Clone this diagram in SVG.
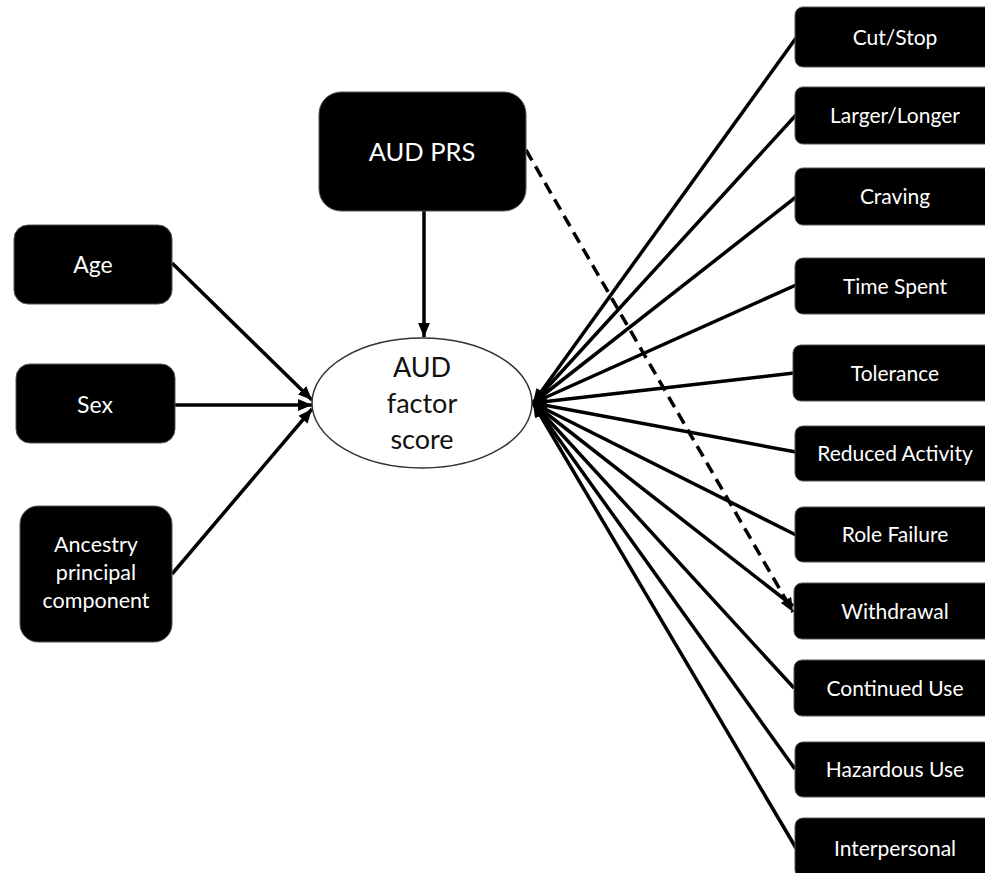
<svg xmlns="http://www.w3.org/2000/svg" width="985" height="873" viewBox="0 0 985 873">
<style>
.box{fill:#000;stroke:#555;stroke-width:1}
.t{fill:#fff;font-family:Lato,"Liberation Sans",sans-serif;text-anchor:middle}
.r{font-size:21px}
.l{font-size:23px}
.e{stroke:#000;stroke-width:3.5;fill:none}
.f{font-family:Lato,"Liberation Sans",sans-serif;font-size:27px;text-anchor:middle;fill:#111}
</style>
<defs>
<marker id="ah" viewBox="0 0 14 12" refX="14" refY="6" markerWidth="14" markerHeight="12" markerUnits="userSpaceOnUse" orient="auto">
<path d="M0,0 L14,6 L0,12 Z" fill="#000"/>
</marker>
</defs>
<rect width="985" height="873" fill="#fff"/>
<g id="connectors">
<line class="e" x1="424" y1="211" x2="424" y2="337" marker-end="url(#ah)"/>
<line class="e" x1="172" y1="263" x2="312" y2="400" marker-end="url(#ah)"/>
<line class="e" x1="175" y1="405" x2="312" y2="405" marker-end="url(#ah)"/>
<line class="e" x1="172" y1="574" x2="312" y2="409" marker-end="url(#ah)"/>
<line class="e" x1="796" y1="38" x2="533" y2="403" marker-end="url(#ah)"/>
<line class="e" x1="796" y1="115" x2="533" y2="403" marker-end="url(#ah)"/>
<line class="e" x1="796" y1="197" x2="533" y2="403" marker-end="url(#ah)"/>
<line class="e" x1="796" y1="285" x2="533" y2="403" marker-end="url(#ah)"/>
<line class="e" x1="794" y1="373" x2="533" y2="403" marker-end="url(#ah)"/>
<line class="e" x1="796" y1="452" x2="533" y2="403" marker-end="url(#ah)"/>
<line class="e" x1="796" y1="535" x2="533" y2="403" marker-end="url(#ah)"/>
<line class="e" x1="793" y1="606" x2="533" y2="403" marker-end="url(#ah)"/>
<line class="e" x1="794" y1="688" x2="533" y2="403" marker-end="url(#ah)"/>
<line class="e" x1="795" y1="769" x2="533" y2="403" marker-end="url(#ah)"/>
<line class="e" x1="796" y1="848" x2="533" y2="403" marker-end="url(#ah)"/>
<line class="e" x1="526" y1="150" x2="793" y2="612" stroke-dasharray="12 7" marker-end="url(#ah)"/>
</g>
<g id="aud_prs"><rect class="box" x="319" y="92" width="207" height="119" rx="22"/><text class="t" x="422" y="161" font-size="25.5">AUD PRS</text></g>
<g id="factor"><ellipse cx="422" cy="403" rx="110" ry="65" fill="#fff" stroke="#333" stroke-width="1.5"/>
<text class="f" x="422" y="377">AUD</text>
<text class="f" x="422" y="413">factor</text>
<text class="f" x="422" y="449">score</text></g>
<g id="age"><rect class="box" x="14" y="225" width="158" height="79" rx="14"/><text class="t l" x="93" y="273">Age</text></g>
<g id="sex"><rect class="box" x="16" y="364" width="159" height="79" rx="14"/><text class="t l" x="95" y="413">Sex</text></g>
<g id="ancestry"><rect class="box" x="20" y="506" width="152" height="136" rx="18"/>
<text class="t" x="96" y="552" font-size="21.5">Ancestry</text><text class="t" x="96" y="580" font-size="21.5">principal</text><text class="t" x="96" y="608" font-size="21.5">component</text></g>
<g id="cut_stop"><rect class="box" x="795" y="7" width="200" height="60" rx="8"/><text class="t r" x="895" y="45">Cut/Stop</text></g>
<g id="larger_longer"><rect class="box" x="795" y="87" width="200" height="57" rx="8"/><text class="t r" x="895" y="123">Larger/Longer</text></g>
<g id="craving"><rect class="box" x="795" y="168" width="200" height="57" rx="8"/><text class="t r" x="895" y="204">Craving</text></g>
<g id="time_spent"><rect class="box" x="795" y="258" width="200" height="56" rx="8"/><text class="t r" x="895" y="294">Time Spent</text></g>
<g id="tolerance"><rect class="box" x="793" y="345" width="202" height="56" rx="8"/><text class="t r" x="895" y="381">Tolerance</text></g>
<g id="reduced_activity"><rect class="box" x="795" y="426" width="200" height="55" rx="8"/><text class="t r" x="895" y="461">Reduced Activity</text></g>
<g id="role_failure"><rect class="box" x="795" y="507" width="200" height="55" rx="8"/><text class="t r" x="895" y="542">Role Failure</text></g>
<g id="withdrawal"><rect class="box" x="794" y="583" width="201" height="56" rx="8"/><text class="t r" x="895" y="619">Withdrawal</text></g>
<g id="continued_use"><rect class="box" x="794" y="660" width="201" height="56" rx="8"/><text class="t r" x="895" y="696">Continued Use</text></g>
<g id="hazardous_use"><rect class="box" x="795" y="742" width="200" height="55" rx="8"/><text class="t r" x="895" y="777">Hazardous Use</text></g>
<g id="interpersonal"><rect class="box" x="795" y="818" width="200" height="60" rx="8"/><text class="t r" x="895" y="856">Interpersonal</text></g>
</svg>
